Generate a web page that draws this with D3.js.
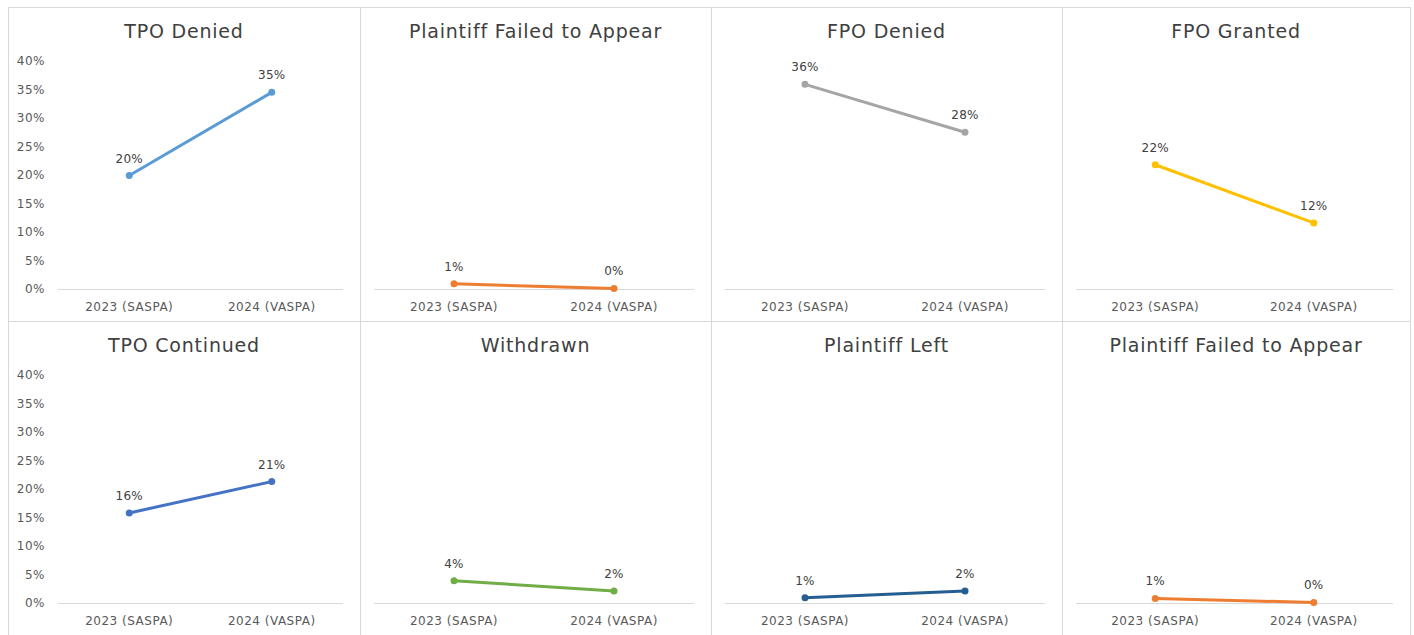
<!DOCTYPE html>
<html>
<head>
<meta charset="utf-8">
<script src="https://cdn.jsdelivr.net/npm/d3@7"></script>
<style>
  body { margin: 0; background: #fff; }
  svg text { font-family: "DejaVu Sans", "Noto Sans", sans-serif; }
</style>
</head>
<body>
<div id="chart"></div>
<script>
// data
var years = ["2023 (SASPA)", "2024 (VASPA)"];
var titles = ["TPO Denied", "Plaintiff Failed to Appear", "FPO Denied", "FPO Granted",
              "TPO Continued", "Withdrawn", "Plaintiff Left", "Plaintiff Failed to Appear"];
var values = [
  [0.199, 0.345],
  [0.009, 0.001],
  [0.359, 0.275],
  [0.218, 0.116],
  [0.158, 0.213],
  [0.039, 0.021],
  [0.009, 0.021],
  [0.008, 0.001]
];
var labels = [
  ["20%", "35%"], ["1%", "0%"], ["36%", "28%"], ["22%", "12%"],
  ["16%", "21%"], ["4%", "2%"], ["1%", "2%"], ["1%", "0%"]
];
var colors = ["#5B9BD5", "#ED7D31", "#A5A5A5", "#FFC000", "#4472C4", "#70AD47", "#255E91", "#ED7D31"];
var yTicks = [0, 0.05, 0.1, 0.15, 0.2, 0.25, 0.3, 0.35, 0.4];

var width = 1414, height = 635;
var colX = [8, 360, 711, 1062, 1410];
var rowY = [7, 321, 635];

var svg = d3.select("#chart").append("svg")
    .attr("width", width)
    .attr("height", height);

// grid border
svg.append("rect")
    .attr("x", colX[0] + 0.5).attr("y", rowY[0] + 0.5)
    .attr("width", colX[4] - colX[0]).attr("height", rowY[2] - rowY[0])
    .attr("fill", "none").attr("stroke", "#d9d9d9");
colX.slice(1, 4).forEach(function(x) {
  svg.append("line").attr("x1", x + 0.5).attr("x2", x + 0.5)
      .attr("y1", rowY[0]).attr("y2", rowY[2]).attr("stroke", "#d9d9d9");
});
svg.append("line").attr("x1", colX[0]).attr("x2", colX[4])
    .attr("y1", rowY[1] + 0.5).attr("y2", rowY[1] + 0.5).attr("stroke", "#d9d9d9");

titles.forEach(function(title, i) {
  var col = i % 4, row = Math.floor(i / 4);
  var left = colX[col], top = rowY[row];
  var w = colX[col + 1] - left;
  var hasAxis = col === 0;
  var x0 = left + (hasAxis ? 50 : 14), x1 = left + w - 17;

  var g = svg.append("g");

  var x = d3.scalePoint().domain(years).range([x0, x1]).padding(0.5);
  var y = d3.scaleLinear().domain([0, 0.4]).range([top + 282, top + 54]);

  g.append("text")
      .attr("x", left + w / 2).attr("y", top + 31)
      .attr("text-anchor", "middle")
      .attr("font-size", 19)
      .attr("letter-spacing", 0.8)
      .attr("fill", "#404040")
      .text(title);

  if (hasAxis) {
    g.selectAll(".ytick").data(yTicks).enter().append("text")
        .attr("x", left + 37)
        .attr("y", function(d) { return y(d) + 4; })
        .attr("text-anchor", "end")
        .attr("font-size", 12)
        .attr("letter-spacing", 0.5)
        .attr("fill", "#595959")
        .text(d3.format(".0%"));
  }

  // baseline
  g.append("line")
      .attr("x1", x0).attr("x2", x1)
      .attr("y1", y(0) + 0.5).attr("y2", y(0) + 0.5)
      .attr("stroke", "#d9d9d9");

  g.selectAll(".xlab").data(years).enter().append("text")
      .attr("x", function(d) { return x(d); })
      .attr("y", y(0) + 22)
      .attr("text-anchor", "middle")
      .attr("font-size", 12)
      .attr("letter-spacing", 0.5)
      .attr("fill", "#595959")
      .text(function(d) { return d; });

  var pts = years.map(function(yr, j) { return { yr: yr, v: values[i][j], lab: labels[i][j] }; });

  g.append("path")
      .datum(pts)
      .attr("fill", "none")
      .attr("stroke", colors[i])
      .attr("stroke-width", 3)
      .attr("stroke-linecap", "round")
      .attr("d", d3.line().x(function(d) { return x(d.yr); }).y(function(d) { return y(d.v); }));

  g.selectAll(".pt").data(pts).enter().append("circle")
      .attr("cx", function(d) { return x(d.yr); })
      .attr("cy", function(d) { return y(d.v); })
      .attr("r", 3.5)
      .attr("fill", colors[i]);

  g.selectAll(".vlab").data(pts).enter().append("text")
      .attr("x", function(d) { return x(d.yr); })
      .attr("y", function(d) { return y(d.v) - 13; })
      .attr("text-anchor", "middle")
      .attr("font-size", 12)
      .attr("letter-spacing", 0.3)
      .attr("fill", "#404040")
      .text(function(d) { return d.lab; });
});
</script>
</body>
</html>
